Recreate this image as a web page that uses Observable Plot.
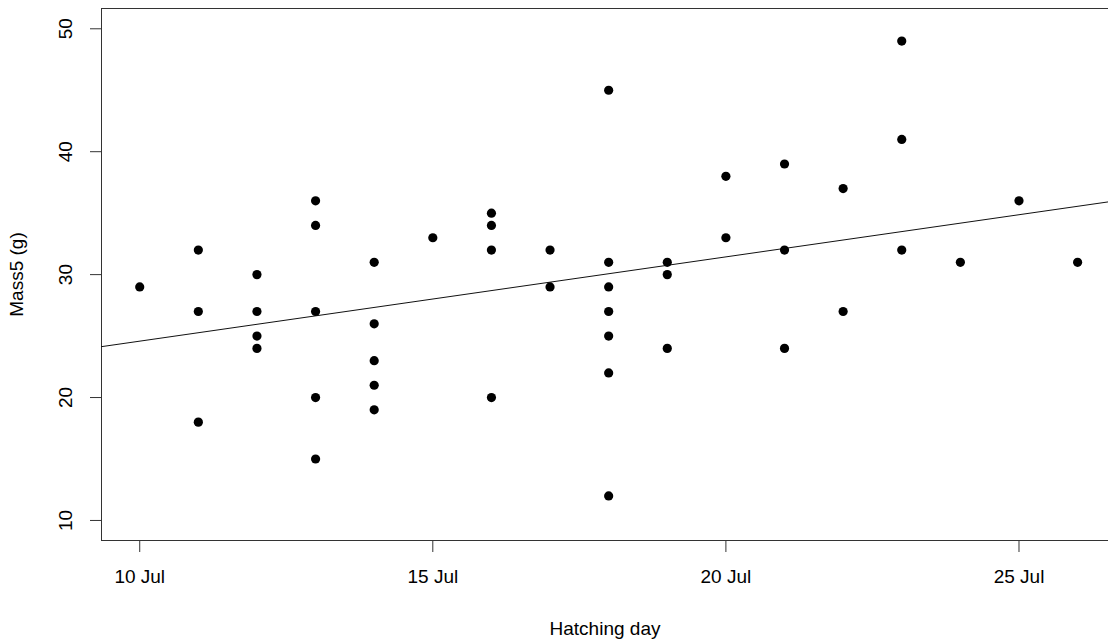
<!DOCTYPE html>
<html>
<head>
<meta charset="utf-8">
<script src="https://cdn.jsdelivr.net/npm/d3@7"></script>
<script src="https://cdn.jsdelivr.net/npm/@observablehq/plot@0.6"></script>
<style>
  html, body { margin: 0; padding: 0; background: #fff; overflow: hidden; }
  #chart svg { display: block; }
</style>
</head>
<body>
<div id="chart"></div>
<script>
// Hatching day (day of July) and Mass5 (g) for each bird
const hatchDay = [10,
  11, 11, 11,
  12, 12, 12, 12,
  13, 13, 13, 13, 13,
  14, 14, 14, 14, 14,
  15,
  16, 16, 16, 16,
  17, 17,
  18, 18, 18, 18, 18, 18, 18,
  19, 19, 19,
  20, 20,
  21, 21, 21,
  22, 22,
  23, 23, 23,
  24,
  25,
  26];
const mass5 = [29,
  32, 27, 18,
  30, 27, 25, 24,
  36, 34, 27, 20, 15,
  31, 26, 23, 21, 19,
  33,
  35, 34, 32, 20,
  32, 29,
  45, 31, 29, 27, 25, 22, 12,
  31, 30, 24,
  38, 33,
  39, 32, 24,
  37, 27,
  49, 41, 32,
  31,
  36,
  31];

// fitted line (as drawn in the reference): mass = intercept + slope * day
const fitIntercept = 17.73;
const fitSlope = 0.6857;

const xTickDays = [10, 15, 20, 25];
const yTicks = [10, 20, 30, 40, 50];
const xDomainDays = [9.348, 26.527];
const yDomain = [8.37, 51.65];

const YEAR = 2015;
const DAY = 864e5;
const toDate = d => new Date(Date.UTC(YEAR, 6, 1) + (d - 1) * DAY);

const data = hatchDay.map((d, i) => ({date: toDate(d), day: d, mass: mass5[i]}));
const fit = xDomainDays.map(d => ({date: toDate(d), mass: fitIntercept + fitSlope * d}));

const xDomain = xDomainDays.map(toDate);
const fmt = d3.utcFormat("%-d %b");

const plot = Plot.plot({
  width: 1108,
  height: 641,
  marginTop: 8,
  marginRight: 0,
  marginBottom: 101,
  marginLeft: 101,
  style: {fontFamily: "'Liberation Sans', Arial, sans-serif", fontSize: "19px", color: "#000", background: "#fff"},
  x: {type: "utc", domain: xDomain},
  y: {domain: yDomain},
  marks: [
    Plot.axisX({ticks: xTickDays.map(toDate), tickFormat: fmt, tickSize: 12, tickPadding: 17,
      label: "Hatching day", labelAnchor: "center", labelOffset: 94, labelArrow: "none", stroke: "#333"}),
    Plot.axisY({ticks: yTicks, tickSize: 11, tickPadding: 19, tickRotate: -90,
      label: "Mass5 (g)", labelAnchor: "center", labelOffset: 92, labelArrow: "none", stroke: "#333"}),
    Plot.ruleX([xDomain[0]], {stroke: "#333"}),
    Plot.ruleY(yDomain, {stroke: "#333"}),
    Plot.line(fit, {x: "date", y: "mass", stroke: "#111", strokeWidth: 1}),
    Plot.dot(data, {x: "date", y: "mass", r: 4.6, fill: "#000", stroke: "none"})
  ]
});
document.getElementById("chart").appendChild(plot);
</script>
</body>
</html>
